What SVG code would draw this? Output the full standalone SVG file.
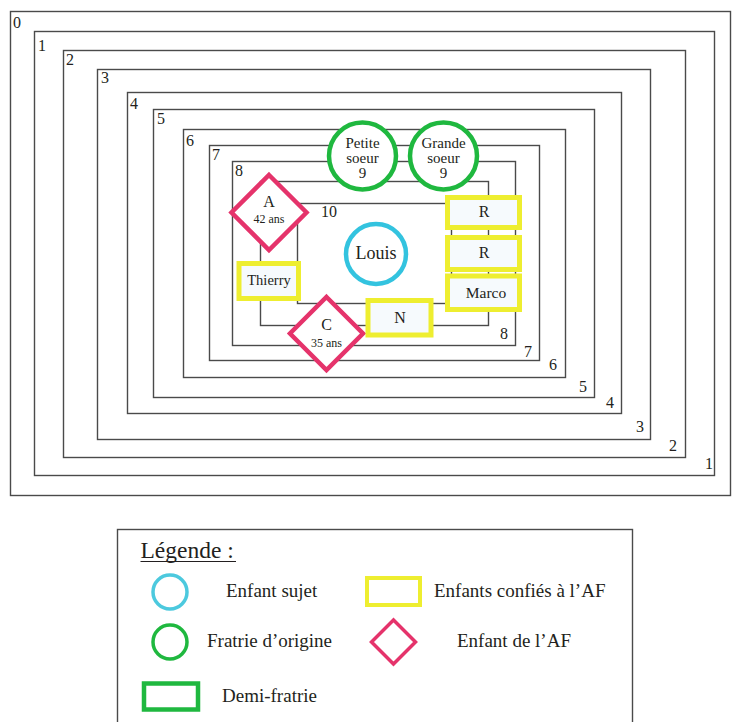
<svg xmlns="http://www.w3.org/2000/svg" width="732" height="722" viewBox="0 0 732 722">
<style>
  text { font-family: "Liberation Serif", "DejaVu Serif", serif; fill: #231f20; }
  .ring { fill: none; stroke: #4a4a4a; stroke-width: 1.4; }
  .num { font-size: 16px; }
  .lbl { font-size: 16px; text-anchor: middle; }
  .cl { font-size: 15px; text-anchor: middle; }
  .small { font-size: 12px; text-anchor: middle; }
  .yel { fill: #f6fafd; stroke: #eeee30; stroke-width: 5; }
  .pink { fill: #ffffff; stroke: #e5336b; stroke-width: 4.5; stroke-linejoin: miter; }
  .green { fill: #ffffff; stroke: #1fb83f; stroke-width: 4.5; }
  .cyan { fill: #ffffff; stroke: #33c3df; stroke-width: 4.5; }
  .leg { font-size: 19px; }
</style>
<rect width="732" height="722" fill="#ffffff"/>

<g id="rings">
  <g id="ring0"><rect class="ring" x="10.5" y="11.5" width="720" height="484"/><text class="num" x="13" y="28">0</text></g>
  <g id="ring1"><rect class="ring" x="34.5" y="31.5" width="680" height="444"/><text class="num" x="38" y="51">1</text><text class="num" x="705" y="469">1</text></g>
  <g id="ring2"><rect class="ring" x="63.5" y="50.5" width="622" height="407"/><text class="num" x="66" y="65">2</text><text class="num" x="669" y="451">2</text></g>
  <g id="ring3"><rect class="ring" x="97.5" y="69.5" width="553" height="370"/><text class="num" x="101" y="83">3</text><text class="num" x="636" y="432">3</text></g>
  <g id="ring4"><rect class="ring" x="127.5" y="92.5" width="494" height="321"/><text class="num" x="130" y="109">4</text><text class="num" x="606" y="408">4</text></g>
  <g id="ring5"><rect class="ring" x="153.5" y="109.5" width="441" height="288"/><text class="num" x="157" y="124">5</text><text class="num" x="579" y="392">5</text></g>
  <g id="ring6"><rect class="ring" x="183.5" y="129.5" width="382" height="248"/><text class="num" x="186" y="146">6</text><text class="num" x="549" y="370">6</text></g>
  <g id="ring7"><rect class="ring" x="209.5" y="145.5" width="330" height="215"/><text class="num" x="212" y="160">7</text><text class="num" x="524" y="357">7</text></g>
  <g id="ring8"><rect class="ring" x="232.5" y="161.5" width="283" height="184"/><text class="num" x="235" y="176">8</text><text class="num" x="500" y="339">8</text></g>
  <g id="ring9"><rect class="ring" x="260.5" y="181.5" width="228" height="144"/></g>
  <g id="ring10"><rect class="ring" x="297.5" y="203.5" width="154" height="100"/><text x="321" y="217" style="font-size:16px">10</text></g>
</g>

<g id="petite-soeur">
  <circle class="green" cx="362.5" cy="156" r="33.5"/>
  <text class="cl" x="362.5" y="147.5">Petite</text>
  <text class="cl" x="362.5" y="162.5">soeur</text>
  <text class="cl" x="362.5" y="177.5">9</text>
</g>
<g id="grande-soeur">
  <circle class="green" cx="443.5" cy="156" r="33.5"/>
  <text class="cl" x="443.5" y="147.5">Grande</text>
  <text class="cl" x="443.5" y="162.5">soeur</text>
  <text class="cl" x="443.5" y="177.5">9</text>
</g>

<g id="louis">
  <circle class="cyan" cx="376" cy="254" r="30"/>
  <text class="lbl" x="376" y="259" style="font-size:18px">Louis</text>
</g>

<g id="A">
  <polygon class="pink" points="269,175 306.5,212.5 269,250 231.5,212.5"/>
  <text class="lbl" x="269" y="207">A</text>
  <text class="small" x="269" y="223">42 ans</text>
</g>

<g id="thierry">
  <rect class="yel" x="239" y="263.5" width="59.5" height="35"/>
  <text class="lbl" x="269" y="285" style="font-size:14.5px">Thierry</text>
</g>

<g id="C">
  <polygon class="pink" points="326.5,297 363,333.5 326.5,370 290,333.5"/>
  <text class="lbl" x="326.5" y="330">C</text>
  <text class="small" x="326.5" y="347">35 ans</text>
</g>

<g id="N">
  <rect class="yel" x="368" y="300.5" width="63" height="34.5"/>
  <text class="lbl" x="400" y="323">N</text>
</g>

<g id="R1">
  <rect class="yel" x="447.5" y="197.5" width="72" height="30"/>
  <text class="lbl" x="484" y="217">R</text>
</g>
<g id="R2">
  <rect class="yel" x="447.5" y="237.5" width="72" height="32"/>
  <text class="lbl" x="484" y="258">R</text>
</g>
<g id="marco">
  <rect class="yel" x="447.5" y="276" width="72" height="33.5"/>
  <text class="lbl" x="486" y="297.5" style="font-size:15.5px">Marco</text>
</g>

<g id="legend">
  <rect x="117.5" y="529.5" width="515" height="200" fill="none" stroke="#4a4a4a" stroke-width="1.4"/>
  <text x="140.5" y="558" style="font-size:23.5px">Légende :</text>
  <line x1="140.5" y1="561.5" x2="236" y2="561.5" stroke="#231f20" stroke-width="1"/>
  <circle cx="170" cy="592" r="17" fill="none" stroke="#4cc9de" stroke-width="3.5"/>
  <text class="leg" x="226" y="597">Enfant sujet</text>
  <rect x="367" y="578" width="53" height="27" fill="none" stroke="#eeee30" stroke-width="4"/>
  <text class="leg" x="434" y="597">Enfants confiés à l’AF</text>
  <circle cx="170" cy="642" r="17" fill="none" stroke="#1fb83f" stroke-width="3.5"/>
  <text class="leg" x="207" y="647">Fratrie d’origine</text>
  <polygon points="393.5,620 415.5,642 393.5,664 371.5,642" fill="none" stroke="#e5336b" stroke-width="3.5"/>
  <text class="leg" x="457" y="647">Enfant de l’AF</text>
  <rect x="144" y="683.5" width="54" height="26" fill="none" stroke="#1fb83f" stroke-width="4.5"/>
  <text class="leg" x="222" y="702">Demi-fratrie</text>
</g>
</svg>
